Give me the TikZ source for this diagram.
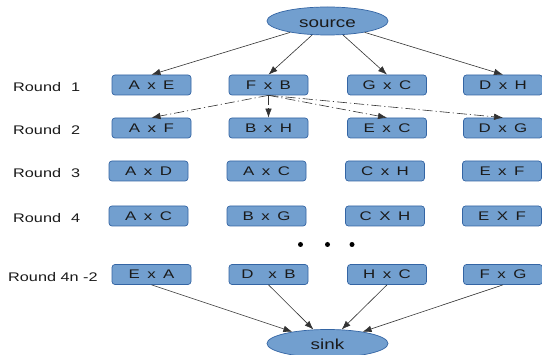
\documentclass[tikz,border=0pt]{standalone}
\usepackage{fontspec}
\setmainfont{Liberation Sans}[FakeStretch=1.3]
\newfontfamily\pairfont{Liberation Sans}[FakeStretch=1.35, WordSpace=1.6]
\usetikzlibrary{arrows.meta,shapes.geometric}
\definecolor{boxfill}{HTML}{729FCF}
\definecolor{boxline}{HTML}{3465A4}
\definecolor{edgecol}{HTML}{333333}
\definecolor{txtcol}{HTML}{1A1A1A}
\begin{document}
\begin{tikzpicture}[x=1pt,y=-1pt,
  pair/.style={draw=boxline, fill=boxfill, rounded corners=3pt, minimum width=79pt, minimum height=20pt, inner sep=0pt, text=txtcol, font=\pairfont\fontsize{12.5}{14}\selectfont, text height=9pt, text depth=0pt, line width=0.7pt},
  term/.style={ellipse, draw=boxline, fill=boxfill, minimum width=121pt, minimum height=28pt, inner sep=0pt, text=txtcol, font=\fontsize{14.5}{16}\selectfont, text height=13pt, text depth=0pt, line width=0.7pt},
  roundlbl/.style={anchor=base west, font=\fontsize{12.5}{14}\selectfont, inner sep=0pt, text=txtcol},
  arr/.style={draw=edgecol, line width=0.6pt, -{Latex[length=9pt,width=6.5pt]}},
  dasharr/.style={arr, dash pattern=on 10pt off 3pt on 1.2pt off 3pt},
  ellipsisdot/.style={circle, fill=black, minimum size=5pt, inner sep=0pt}
]
\clip (0,0) rectangle (542,355);
\fill[white] (0,0) rectangle (542,355);

% terminals
\node[term] (source) at (327.5,21) {source};
\node[term] (sink) at (327.5,343.5) {sink};

% round labels
\node[roundlbl] (l1) at (13,92) {Round\hspace{10pt}1};
\node[roundlbl] (l2) at (13,135) {Round\hspace{10pt}2};
\node[roundlbl] (l3) at (13,178) {Round\hspace{10pt}3};
\node[roundlbl] (l4) at (13,223) {Round\hspace{10pt}4};
\node[roundlbl] (l5) at (8,281.5) {Round 4n -2};

% round 1
\node[pair] (ae) at (151.5,85) {A x E};
\node[pair] (fb) at (268.5,85) {F x B};
\node[pair] (gc) at (387,85) {G x C};
\node[pair] (dh) at (503,85) {D x H};
% round 2
\node[pair] (af) at (151.5,128) {A x F};
\node[pair] (bh) at (268.5,128) {B x H};
\node[pair] (ec) at (387,128) {E x C};
\node[pair] (dg) at (503,128) {D x G};
% round 3
\node[pair] (ad) at (148.5,171) {A x D};
\node[pair] (ac) at (266.5,171) {A x C};
\node[pair] (ch) at (385,171) {C x H};
\node[pair] (ef) at (502,171) {E x F};
% round 4
\node[pair] (ac4) at (148.5,216) {A x C};
\node[pair] (bg4) at (266.5,216) {B x G};
\node[pair] (ch4) at (385,216) {C X H};
\node[pair] (ef4) at (502,216) {E X F};
% round 4n-2
\node[pair] (ea) at (151.5,274.5) {E x A};
\node[pair] (db) at (268.5,274.5) {D~~x B};
\node[pair] (hc) at (387,274.5) {H x C};
\node[pair] (fg) at (503,274.5) {F x G};

% dots
\node[ellipsisdot] (d1) at (300.5,244.5) {};
\node[ellipsisdot] (d2) at (327.5,244.5) {};
\node[ellipsisdot] (d3) at (352,244.5) {};

% source edges
\draw[arr] (source) -- (ae.north);
\draw[arr] (source) -- (fb.north);
\draw[arr] (source) -- (gc.north);
\draw[arr] (source) -- (dh.north);

% dash-dot edges
\draw[dasharr] (fb.south) -- (af.north);
\draw[dasharr] (fb.south) -- (bh.north);
\draw[dasharr] (fb.south) -- (ec.north);
\draw[dasharr] (fb.south) -- (dg.north);

% sink edges
\draw[arr] (ea.south) -- (sink);
\draw[arr] (db.south) -- (sink);
\draw[arr] (hc.south) -- (sink);
\draw[arr] (fg.south) -- (sink);
\end{tikzpicture}
\end{document}
